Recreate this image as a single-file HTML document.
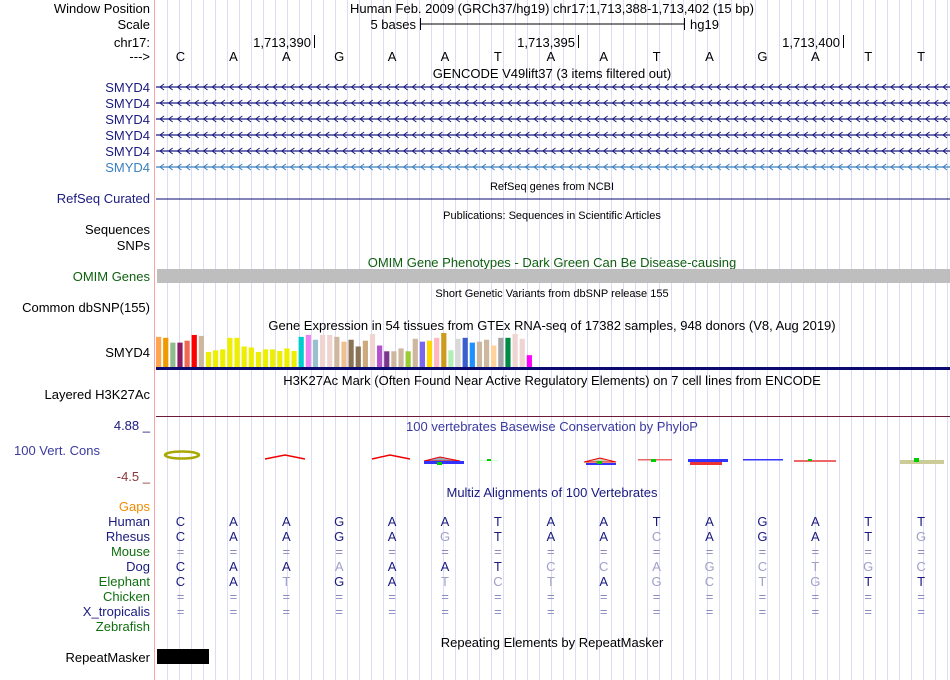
<!DOCTYPE html>
<html><head><meta charset="utf-8"><style>
html,body{margin:0;padding:0;background:#fff;}
svg{display:block;font-family:"Liberation Sans",sans-serif;}
</style></head><body>
<svg id="c" width="950" height="680" xmlns="http://www.w3.org/2000/svg">
<g id="grid"></g>
<line x1="154.5" y1="0" x2="154.5" y2="680" stroke="#f4a6a6" stroke-width="1"/>
<g font-size="13" fill="#000" text-anchor="end">
<text x="150" y="13">Window Position</text>
<text x="150" y="29">Scale</text>
<text x="150" y="47">chr17:</text>
<text x="150" y="61">---&gt;</text>
<g fill="#1a1a80"><text x="150" y="92">SMYD4</text><text x="150" y="108">SMYD4</text><text x="150" y="124">SMYD4</text><text x="150" y="140">SMYD4</text><text x="150" y="156">SMYD4</text></g>
<text x="150" y="172" fill="#3a7fbf">SMYD4</text>
<text x="150" y="203" fill="#1a1a80">RefSeq Curated</text>
<text x="150" y="234">Sequences</text>
<text x="150" y="250">SNPs</text>
<text x="150" y="281" fill="#0f5f0f">OMIM Genes</text>
<text x="150" y="312">Common dbSNP(155)</text>
<text x="150" y="357">SMYD4</text>
<text x="150" y="399">Layered H3K27Ac</text>
<text x="150" y="430" fill="#1a1a80">4.88 _</text>
<text x="100" y="455" fill="#3a3aa0">100 Vert. Cons</text>
<text x="150" y="481" fill="#8b3a3a">-4.5 _</text>
<text x="150" y="511" fill="#f08c00">Gaps</text>
<text x="150" y="526" fill="#1a1a80">Human</text>
<text x="150" y="541" fill="#1a1a80">Rhesus</text>
<text x="150" y="556" fill="#0f6f0f">Mouse</text>
<text x="150" y="571" fill="#1a1a80">Dog</text>
<text x="150" y="586" fill="#0f6f0f">Elephant</text>
<text x="150" y="601" fill="#0f6f0f">Chicken</text>
<text x="150" y="616" fill="#1a1a80">X_tropicalis</text>
<text x="150" y="631" fill="#0f6f0f">Zebrafish</text>
<text x="150" y="662">RepeatMasker</text>
</g>
<g font-size="13" text-anchor="middle">
<text x="552" y="13">Human Feb. 2009 (GRCh37/hg19)   chr17:1,713,388-1,713,402 (15 bp)</text>
<text x="552" y="78">GENCODE V49lift37 (3 items filtered out)</text>
<text x="552" y="190" font-size="11">RefSeq genes from NCBI</text>
<text x="552" y="219" font-size="11">Publications: Sequences in Scientific Articles</text>
<text x="552" y="267" fill="#0f5f0f">OMIM Gene Phenotypes - Dark Green Can Be Disease-causing</text>
<text x="552" y="297" font-size="11">Short Genetic Variants from dbSNP release 155</text>
<text x="552" y="330">Gene Expression in 54 tissues from GTEx RNA-seq of 17382 samples, 948 donors (V8, Aug 2019)</text>
<text x="552" y="385">H3K27Ac Mark (Often Found Near Active Regulatory Elements) on 7 cell lines from ENCODE</text>
<text x="552" y="431" fill="#3a3aa0">100 vertebrates Basewise Conservation by PhyloP</text>
<text x="552" y="497" fill="#1a1a80">Multiz Alignments of 100 Vertebrates</text>
<text x="552" y="647">Repeating Elements by RepeatMasker</text>
</g>
<g font-size="13">
<text x="416" y="29" text-anchor="end">5 bases</text>
<line x1="420" y1="24" x2="685" y2="24" stroke="#000"/>
<line x1="420.5" y1="18" x2="420.5" y2="30" stroke="#000"/>
<line x1="684.5" y1="18" x2="684.5" y2="30" stroke="#000"/>
<text x="690" y="29">hg19</text>
<text x="311" y="47" text-anchor="end">1,713,390</text><line x1="314.5" y1="35" x2="314.5" y2="48" stroke="#000"/>
<text x="575" y="47" text-anchor="end">1,713,395</text><line x1="578.5" y1="35" x2="578.5" y2="48" stroke="#000"/>
<text x="840" y="47" text-anchor="end">1,713,400</text><line x1="843.5" y1="35" x2="843.5" y2="48" stroke="#000"/>
</g>
<g id="bases" font-size="13" text-anchor="middle"></g>
<g id="genes"></g>
<line x1="156" y1="199" x2="950" y2="199" stroke="#0a0a70"/>
<rect x="157" y="269" width="793" height="14" fill="#bebebe"/>
<g id="gtex"></g>
<rect x="156" y="367" width="794" height="3" fill="#0a0a70"/>
<line x1="156" y1="416.5" x2="950" y2="416.5" stroke="#6b1a3a"/>
<g>
<ellipse cx="182" cy="455" rx="17" ry="3.5" fill="none" stroke="#a8a800" stroke-width="2.5"/>
<path d="M265 459 L285 455 L305 459" fill="none" stroke="#e00" stroke-width="1.5"/>
<path d="M372 459 L390 455 L410 459" fill="none" stroke="#e00" stroke-width="1.5"/>
<path d="M424 461 L440 457 L460 461 Z" fill="#9ab" stroke="#e00"/><rect x="424" y="461" width="40" height="3" fill="#33f"/><rect x="437" y="462" width="5" height="3" fill="#0c0"/>
<rect x="478" y="460" width="20" height="1" fill="#cfc"/><rect x="487" y="459" width="4" height="2" fill="#0c0"/>
<path d="M584 462 L600 458 L616 462 Z" fill="#ccb" stroke="#e00"/><rect x="586" y="463" width="30" height="2" fill="#33f"/><rect x="597" y="461" width="5" height="3" fill="#0c0"/>
<rect x="638" y="459" width="34" height="1.5" fill="#e66"/><rect x="651" y="459" width="5" height="3" fill="#0c0"/>
<rect x="688" y="459" width="40" height="3" fill="#33f"/><rect x="690" y="462" width="32" height="3" fill="#e33"/>
<rect x="743" y="459" width="40" height="1.5" fill="#33f"/>
<rect x="794" y="460" width="42" height="2" fill="#e66"/><rect x="808" y="459" width="4" height="2" fill="#0c0"/>
<rect x="900" y="460" width="44" height="4" fill="#cc9"/><rect x="914" y="458" width="5" height="4" fill="#0c0"/>
</g>
<g id="maf" font-size="13" text-anchor="middle"></g>
<rect x="157" y="649" width="52" height="15" fill="#000"/>
</svg>
<script>
const baseSeq = ["C","A","A","G","A","A","T","A","A","T","A","G","A","T","T"];
const rhesus = ["C","A","A","G","A","G","T","A","A","C","A","G","A","T","G"];
const dog = ["C","A","A","A","A","A","T","C","C","A","G","C","T","G","C"];
const elephant = ["C","A","T","G","A","T","C","T","A","G","C","T","G","T","T"];
const gtexValues = [94,91,76,76,82,100,97,47,52,55,91,91,64,61,47,55,55,50,58,50,94,100,85,100,100,94,79,85,64,82,103,67,49,49,58,49,88,79,82,91,106,52,88,91,76,79,85,67,91,91,103,88,37];
const gtexColors = ["#ffa54f","#ee9a00","#8fbc8f","#8b1c62","#ee6a50","#ff0000","#cdb79e","#eeee00","#eeee00","#eeee00","#eeee00","#eeee00","#eeee00","#eeee00","#eeee00","#eeee00","#eeee00","#eeee00","#eeee00","#eeee00","#00cdcd","#ee82ee","#9ac0cd","#eed5d2","#eed5d2","#cdb79e","#f0c090","#8b7355","#8b7355","#cdaa7d","#eed5d2","#b452cd","#7a378b","#cdb79e","#cdb79e","#9acd32","#cdb79e","#7a67ee","#ffd700","#ffb6c1","#cd9b1d","#b4eeb4","#d9d9d9","#3a5fcd","#1e90ff","#cdb79e","#cdb79e","#ffd39b","#a6a6a6","#008b45","#eed5d2","#eed5d2","#ff00ff"];
const NS="http://www.w3.org/2000/svg";
function mk(tag,attrs,parent){const e=document.createElementNS(NS,tag);for(const k in attrs)e.setAttribute(k,attrs[k]);parent.appendChild(e);return e;}
const bx=i=>180.5+i*52.9;
const grid=document.getElementById('grid');
for(let x=167;x<950;x+=12){
  const l=mk('line',{x1:x+.5,y1:0,x2:x+.5,y2:680,stroke:'#dcdcf4'},grid);
  
  
}
const bases=document.getElementById('bases');
baseSeq.forEach((b,i)=>{const t=mk('text',{x:bx(i),y:61},bases);t.textContent=b;
  
  });
const genes=document.getElementById('genes');
const gy=[87,103,119,135,151,167];
gy.forEach((y,r)=>{
  const col=r==5?'#3a7fbf':'#1a1a80';
  const l=mk('line',{x1:156,y1:y,x2:950,y2:y,stroke:col,'stroke-width':1.3},genes);
  
  
  let d='';for(let x=160;x<948;x+=8.7)d+=`M${x+4} ${y-3}L${x} ${y}L${x+4} ${y+3}`;
  mk('path',{d:d,stroke:col,fill:'none','stroke-width':1},genes);
});
const gtex=document.getElementById('gtex');
const gmax=106, gH=34, gBase=367;
gtexValues.forEach((v,i)=>{
  const h=v/gmax*gH;
  const r=mk('rect',{x:156+i*7.13,y:gBase-h,width:5.2,height:h,fill:gtexColors[i]},gtex);
  
  
});
const maf=document.getElementById('maf');
const rows=[[baseSeq,521],[rhesus,536],[null,551],[dog,566],[elephant,581],[null,596],[null,611]];
rows.forEach(([s,y])=>{
  for(let i=0;i<15;i++){
    const t=mk('text',{x:bx(i),y:y+5},maf);
    if(!s){t.textContent='=';t.setAttribute('fill','#8a8ac0');}
    else{t.textContent=s[i];t.setAttribute('fill',s[i]===baseSeq[i]?'#1a1a80':'#a0a0c8');}
    
    
  }
});
</script>
</body></html>
